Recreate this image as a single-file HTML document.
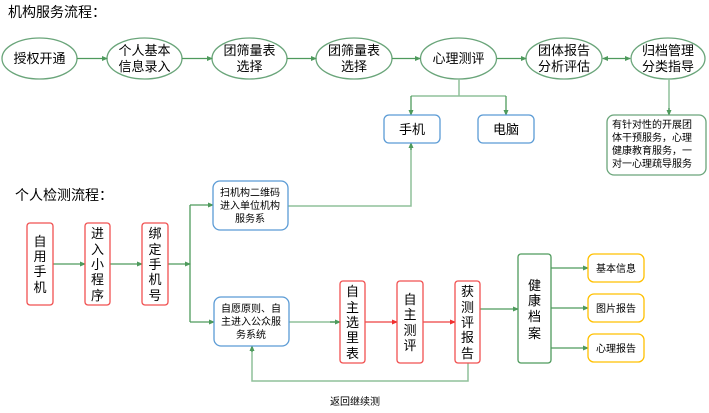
<!DOCTYPE html>
<html><head><meta charset="utf-8"><style>
html,body{margin:0;padding:0;background:#fff;width:709px;height:413px;overflow:hidden}
svg text{font-family:"Liberation Sans","Noto Sans CJK SC",sans-serif;fill:#000}
</style></head><body>
<svg width="709" height="413" viewBox="0 0 709 413" xmlns="http://www.w3.org/2000/svg">
<defs>
<marker id="g" markerWidth="6" markerHeight="6" refX="5" refY="3" orient="auto" markerUnits="userSpaceOnUse"><path d="M0,0.5 L6,3 L0,5.5z" fill="#4e9a5c"/></marker>
<marker id="gs" markerWidth="6" markerHeight="6" refX="1" refY="3" orient="auto" markerUnits="userSpaceOnUse"><path d="M6,0.5 L0,3 L6,5.5z" fill="#4e9a5c"/></marker>
<marker id="r" markerWidth="6" markerHeight="6" refX="5" refY="3" orient="auto" markerUnits="userSpaceOnUse"><path d="M0,0.5 L6,3 L0,5.5z" fill="#f03030"/></marker>
</defs>
<text x="8" y="17" font-size="14">机构服务流程：</text>
<text x="15" y="200" font-size="14">个人检测流程：</text>
<g fill="#fff" stroke="#6aa57a" stroke-width="1.3">
<ellipse cx="39.5" cy="58.5" rx="37.5" ry="20.5"/>
<ellipse cx="144.5" cy="58.5" rx="37.5" ry="20.5"/>
<ellipse cx="249.5" cy="58.5" rx="37.5" ry="20.5"/>
<ellipse cx="354" cy="58.5" rx="38" ry="20.5"/>
<ellipse cx="458.5" cy="58.5" rx="38" ry="20.5"/>
<ellipse cx="564" cy="58.5" rx="38" ry="20.5"/>
<ellipse cx="668" cy="58.5" rx="37" ry="20.5"/>
</g>
<g font-size="13" text-anchor="middle">
<text x="39.5" y="63">授权开通</text>
<text x="144.5" y="55">个人基本</text><text x="144.5" y="71">信息录入</text>
<text x="249.5" y="55">团筛量表</text><text x="249.5" y="71">选择</text>
<text x="354" y="55">团筛量表</text><text x="354" y="71">选择</text>
<text x="458.5" y="63">心理测评</text>
<text x="564" y="55">团体报告</text><text x="564" y="71">分析评估</text>
<text x="668" y="55">归档管理</text><text x="668" y="71">分类指导</text>
</g>
<g stroke="#4e9a5c" stroke-width="1.3" fill="none">
<line x1="77" y1="58.5" x2="107" y2="58.5" marker-end="url(#g)"/>
<line x1="182" y1="58.5" x2="212" y2="58.5" marker-end="url(#g)"/>
<line x1="287" y1="58.5" x2="316" y2="58.5" marker-end="url(#g)"/>
<line x1="392" y1="58.5" x2="420" y2="58.5" marker-end="url(#g)"/>
<line x1="497" y1="58.5" x2="526" y2="58.5" marker-end="url(#g)"/>
<line x1="603" y1="58.5" x2="630" y2="58.5" marker-end="url(#g)" marker-start="url(#gs)"/>
</g>
<g stroke="#8fc09a" stroke-width="1.5" fill="none">
<path d="M459,79 V96 M411,96 H506"/>
<path d="M669,79 V112"/>
<path d="M288,206 H411 V146"/>
<path d="M289,322 H337"/>
<path d="M468,363 V381 H252 V349"/>
</g>
<g stroke="#4e9a5c" stroke-width="1.3" fill="none">
<path d="M411,96 V115" marker-end="url(#g)"/>
<path d="M506,96 V115" marker-end="url(#g)"/>
<line x1="669" y1="108" x2="669" y2="115" marker-end="url(#g)"/>
<line x1="411" y1="150" x2="411" y2="143" marker-end="url(#g)"/>
<line x1="330" y1="322" x2="340" y2="322" marker-end="url(#g)"/>
<line x1="252" y1="352" x2="252" y2="346" marker-end="url(#g)"/>
<line x1="53" y1="264" x2="85" y2="264" marker-end="url(#g)"/>
<line x1="110" y1="264" x2="142" y2="264" marker-end="url(#g)"/>
<path d="M168,264 H190" marker-end="url(#g)"/>
<path d="M190,205 V322"/>
<line x1="190" y1="205" x2="213" y2="205" marker-end="url(#g)"/>
<line x1="190" y1="322" x2="214" y2="322" marker-end="url(#g)"/>
<line x1="480" y1="309" x2="518" y2="309" marker-end="url(#g)"/>
<line x1="551" y1="268" x2="588" y2="268" marker-end="url(#g)"/>
<line x1="551" y1="308" x2="588" y2="308" marker-end="url(#g)"/>
<line x1="551" y1="348" x2="588" y2="348" marker-end="url(#g)"/>
</g>
<g stroke="#f06060" stroke-width="1.5">
<line x1="365" y1="322" x2="397" y2="322" marker-end="url(#r)"/>
<line x1="423" y1="322" x2="455" y2="322" marker-end="url(#r)"/>
</g>
<g fill="#fff" stroke="#5b9bd5" stroke-width="1.3">
<rect x="384" y="115" width="56" height="28" rx="5"/>
<rect x="478" y="115" width="56" height="28" rx="5"/>
<rect x="213" y="181" width="75" height="49" rx="7"/>
<rect x="214" y="297" width="75" height="49" rx="7"/>
</g>
<rect x="607" y="115" width="99" height="60" rx="7" fill="#fff" stroke="#6aa57a" stroke-width="1.3"/>
<g fill="#fff" stroke="#f05050" stroke-width="1.3">
<rect x="27" y="223" width="26" height="82" rx="3"/>
<rect x="85" y="223" width="25" height="82" rx="3"/>
<rect x="142" y="223" width="26" height="82" rx="3"/>
<rect x="340" y="281" width="25" height="82" rx="3"/>
<rect x="397" y="281" width="26" height="82" rx="3"/>
<rect x="455" y="281" width="25" height="82" rx="3"/>
</g>
<rect x="518" y="254" width="33" height="109" rx="3" fill="#fff" stroke="#4e9a5c" stroke-width="1.3"/>
<g fill="#fff" stroke="#ffc000" stroke-width="1.3">
<rect x="588" y="254" width="56" height="28" rx="6"/>
<rect x="588" y="294" width="56" height="28" rx="6"/>
<rect x="588" y="334" width="56" height="28" rx="6"/>
</g>
<g font-size="13" text-anchor="middle">
<text x="412" y="134">手机</text>
<text x="506" y="134">电脑</text>
</g>
<g font-size="10" text-anchor="middle">
<text x="250" y="196">扫机构二维码</text><text x="250" y="209">进入单位机构</text><text x="250" y="222">服务系</text>
<text x="251" y="312">自愿原则、自</text><text x="251" y="325">主进入公众服</text><text x="251" y="338">务系统</text>
<text x="616" y="272">基本信息</text>
<text x="616" y="312">图片报告</text>
<text x="616" y="352">心理报告</text>
</g>
<g font-size="10" text-anchor="start">
<text x="612" y="128">有针对性的开展团</text><text x="612" y="141">体干预服务，心理</text><text x="612" y="154">健康教育服务，一</text><text x="612" y="167">对一心理疏导服务</text>
</g>
<g font-size="13" text-anchor="middle">
<text x="40" y="246">自</text><text x="40" y="261">用</text><text x="40" y="276">手</text><text x="40" y="292">机</text>
<text x="97.5" y="238">进</text><text x="97.5" y="254">入</text><text x="97.5" y="269">小</text><text x="97.5" y="284">程</text><text x="97.5" y="300">序</text>
<text x="155" y="238">绑</text><text x="155" y="254">定</text><text x="155" y="269">手</text><text x="155" y="284">机</text><text x="155" y="300">号</text>
<text x="352.5" y="296">自</text><text x="352.5" y="312">主</text><text x="352.5" y="327">选</text><text x="352.5" y="342">里</text><text x="352.5" y="358">表</text>
<text x="410" y="304">自</text><text x="410" y="319">主</text><text x="410" y="335">测</text><text x="410" y="350">评</text>
<text x="467.5" y="296">获</text><text x="467.5" y="312">测</text><text x="467.5" y="327">评</text><text x="467.5" y="342">报</text><text x="467.5" y="358">告</text>
<text x="534.5" y="290">健</text><text x="534.5" y="305">康</text><text x="534.5" y="321">档</text><text x="534.5" y="338">案</text>
</g>
<text x="330" y="405" font-size="10">返回继续测</text>
</svg>
</body></html>
